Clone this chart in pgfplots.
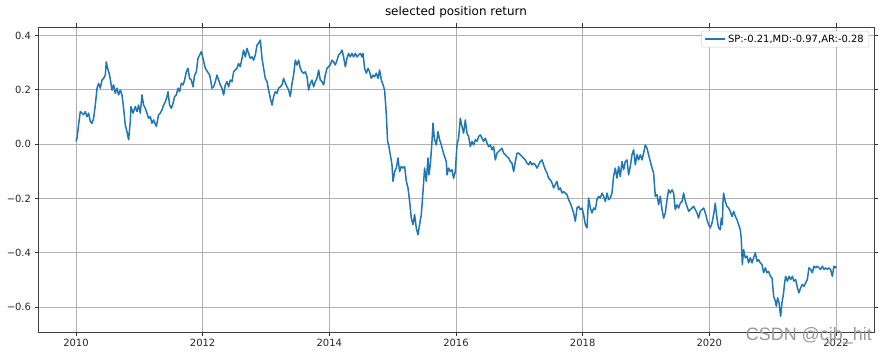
\documentclass[border=0pt]{standalone}
\usepackage{fontspec}
\setmainfont{DejaVu Sans}
\newfontfamily\wmfont{Liberation Sans}
\usepackage{pgfplots}
\pgfplotsset{compat=1.18}
\definecolor{mplblue}{HTML}{1F77B4}
\begin{document}
\begin{tikzpicture}
\begin{axis}[
  scale only axis, width=836bp, height=305bp,
  xmin=2009.4, xmax=2022.6, ymin=-0.691, ymax=0.431,
  xtick={2010,2012,2014,2016,2018,2020,2022},
  xticklabels={2010,2012,2014,2016,2018,2020,2022},
  ytick={-0.6,-0.4,-0.2,0,0.2,0.4},
  yticklabels={−0.6,−0.4,−0.2,0.0,0.2,0.4},
  tick align=outside, major tick length=3.5bp,
  tick style={black!80, line width=0.8bp},
  axis line style={black!75, line width=0.8bp},
  grid=major, major grid style={color=black!31, line width=0.8bp},
  ticklabel style={font=\fontsize{10}{12}\selectfont, text=black!85},
  title={selected position return},
  title style={font=\fontsize{12}{14}\selectfont, at={(0.5,1)}, anchor=south, yshift=3bp, inner sep=0pt},
  legend style={at={(1,1)}, anchor=north east, xshift=-5bp, yshift=-4bp, draw=black!20, fill=white, rounded corners=2bp, font=\fontsize{10}{12}\selectfont, inner xsep=3bp, inner ysep=1.5bp},
  legend cell align=left,
  legend image code/.code={\draw[#1] (0bp,0bp) -- (20bp,0bp);},
]
\addplot[mplblue, line width=1.5bp, line join=round] coordinates {
(2010.000,0.010)(2010.016,0.022)(2010.041,0.071)(2010.068,0.120)(2010.095,0.114)(2010.120,0.108)(2010.147,0.120)(2010.174,0.101)(2010.199,0.114)(2010.226,0.083)(2010.253,0.077)(2010.278,0.095)(2010.305,0.144)(2010.332,0.206)(2010.357,0.224)(2010.384,0.206)(2010.411,0.236)(2010.436,0.242)(2010.463,0.254)(2010.478,0.303)(2010.499,0.279)(2010.531,0.254)(2010.568,0.199)(2010.594,0.218)(2010.621,0.187)(2010.647,0.206)(2010.673,0.181)(2010.700,0.199)(2010.726,0.181)(2010.752,0.132)(2010.778,0.071)(2010.805,0.046)(2010.831,0.016)(2010.857,0.083)(2010.868,0.138)(2010.900,0.114)(2010.936,0.138)(2010.963,0.120)(2010.988,0.144)(2011.015,0.114)(2011.042,0.181)(2011.067,0.144)(2011.094,0.132)(2011.121,0.114)(2011.146,0.095)(2011.173,0.101)(2011.200,0.077)(2011.225,0.089)(2011.268,0.065)(2011.304,0.108)(2011.331,0.114)(2011.358,0.126)(2011.383,0.144)(2011.410,0.156)(2011.437,0.175)(2011.453,0.193)(2011.478,0.144)(2011.505,0.132)(2011.532,0.150)(2011.557,0.175)(2011.584,0.181)(2011.611,0.206)(2011.636,0.193)(2011.663,0.224)(2011.690,0.218)(2011.715,0.236)(2011.742,0.266)(2011.768,0.279)(2011.794,0.242)(2011.821,0.236)(2011.847,0.211)(2011.873,0.254)(2011.900,0.266)(2011.926,0.316)(2011.952,0.328)(2011.978,0.340)(2012.005,0.316)(2012.042,0.279)(2012.078,0.266)(2012.110,0.254)
(2012.121,0.242)(2012.147,0.206)(2012.173,0.211)(2012.200,0.230)(2012.226,0.254)(2012.252,0.236)(2012.279,0.218)(2012.305,0.206)(2012.331,0.181)(2012.357,0.218)(2012.384,0.230)(2012.410,0.211)(2012.436,0.236)(2012.463,0.230)(2012.489,0.266)(2012.515,0.273)(2012.542,0.279)(2012.567,0.297)(2012.594,0.285)(2012.621,0.316)(2012.646,0.346)(2012.673,0.321)(2012.700,0.352)(2012.725,0.334)(2012.752,0.316)(2012.779,0.321)(2012.804,0.309)(2012.831,0.328)(2012.858,0.364)(2012.883,0.371)(2012.910,0.383)(2012.937,0.316)(2012.962,0.279)(2012.989,0.242)(2013.016,0.230)(2013.041,0.199)(2013.068,0.169)(2013.095,0.144)(2013.120,0.175)(2013.147,0.193)(2013.174,0.187)(2013.199,0.206)(2013.226,0.211)(2013.253,0.218)(2013.278,0.242)(2013.305,0.224)(2013.332,0.211)(2013.357,0.199)(2013.384,0.175)(2013.411,0.224)(2013.436,0.254)(2013.463,0.309)(2013.490,0.291)(2013.515,0.309)(2013.542,0.279)(2013.569,0.266)(2013.594,0.261)(2013.621,0.266)(2013.647,0.248)(2013.673,0.199)(2013.700,0.224)(2013.726,0.236)(2013.752,0.211)(2013.778,0.230)(2013.805,0.242)(2013.831,0.273)(2013.857,0.236)(2013.884,0.230)(2013.910,0.218)(2013.936,0.254)(2013.963,0.279)(2013.988,0.285)(2014.015,0.291)(2014.042,0.309)(2014.067,0.303)(2014.094,0.291)(2014.121,0.309)(2014.147,0.328)
(2014.173,0.334)(2014.200,0.346)(2014.225,0.321)(2014.252,0.285)(2014.279,0.316)(2014.304,0.334)(2014.331,0.321)(2014.358,0.334)(2014.383,0.321)(2014.410,0.334)(2014.437,0.321)(2014.462,0.328)(2014.489,0.334)(2014.516,0.321)(2014.531,0.334)(2014.557,0.279)(2014.584,0.261)(2014.611,0.279)(2014.636,0.266)(2014.663,0.242)(2014.690,0.254)(2014.715,0.248)(2014.742,0.261)(2014.769,0.242)(2014.794,0.273)(2014.821,0.236)(2014.848,0.218)(2014.873,0.199)(2014.900,0.108)(2014.920,0.010)(2014.936,-0.003)(2014.963,-0.039)(2014.989,-0.076)(2015.005,-0.137)(2015.031,-0.101)(2015.058,-0.088)(2015.084,-0.051)(2015.110,-0.101)(2015.136,-0.082)(2015.163,-0.088)(2015.189,-0.082)(2015.216,-0.137)(2015.242,-0.161)(2015.268,-0.211)(2015.294,-0.272)(2015.321,-0.296)(2015.346,-0.259)(2015.373,-0.308)(2015.400,-0.333)(2015.425,-0.296)(2015.452,-0.259)(2015.479,-0.174)(2015.504,-0.088)(2015.531,-0.137)(2015.558,-0.051)(2015.573,-0.113)(2015.594,-0.076)(2015.621,0.010)(2015.637,0.077)(2015.657,0.022)(2015.689,-0.003)(2015.716,0.046)(2015.741,0.016)(2015.768,-0.003)(2015.795,-0.027)(2015.820,-0.046)(2015.847,-0.064)(2015.858,-0.113)(2015.883,-0.088)(2015.910,-0.101)(2015.937,-0.094)(2015.962,-0.125)(2015.989,-0.101)(2016.016,-0.003)(2016.041,0.022)(2016.068,0.095)(2016.095,0.065)(2016.120,0.040)(2016.147,0.089)(2016.174,0.040)(2016.199,0.028)
(2016.226,-0.009)(2016.253,0.010)(2016.278,-0.003)(2016.305,0.016)(2016.332,0.010)(2016.357,0.028)(2016.384,0.034)(2016.411,0.022)(2016.436,0.010)(2016.463,0.022)(2016.490,0.004)(2016.515,-0.009)(2016.542,-0.003)(2016.569,-0.021)(2016.594,-0.009)(2016.621,-0.058)(2016.648,-0.033)(2016.673,-0.027)(2016.700,-0.021)(2016.726,-0.015)(2016.752,-0.033)(2016.778,-0.039)(2016.805,-0.046)(2016.831,-0.051)(2016.858,-0.064)(2016.884,-0.070)(2016.910,-0.101)(2016.937,-0.064)(2016.963,-0.033)(2016.988,-0.033)(2017.015,-0.039)(2017.042,-0.046)(2017.067,-0.051)(2017.094,-0.058)(2017.121,-0.070)(2017.147,-0.076)(2017.173,-0.064)(2017.200,-0.076)(2017.225,-0.070)(2017.252,-0.076)(2017.279,-0.088)(2017.304,-0.076)(2017.331,-0.064)(2017.358,-0.058)(2017.383,-0.076)(2017.410,-0.094)(2017.437,-0.106)(2017.462,-0.125)(2017.489,-0.131)(2017.516,-0.143)(2017.541,-0.161)(2017.568,-0.149)(2017.595,-0.137)(2017.620,-0.168)(2017.647,-0.161)(2017.674,-0.180)(2017.699,-0.174)(2017.726,-0.180)(2017.753,-0.186)(2017.778,-0.204)(2017.805,-0.217)(2017.832,-0.235)(2017.857,-0.253)(2017.884,-0.284)(2017.910,-0.235)(2017.936,-0.229)(2017.963,-0.241)(2017.990,-0.235)(2018.015,-0.259)(2018.042,-0.296)(2018.068,-0.308)(2018.094,-0.198)(2018.121,-0.235)(2018.147,-0.253)(2018.173,-0.235)(2018.200,-0.241)
(2018.226,-0.204)(2018.252,-0.192)(2018.279,-0.198)(2018.306,-0.180)(2018.331,-0.192)(2018.358,-0.211)(2018.385,-0.180)(2018.410,-0.204)(2018.436,-0.198)(2018.463,-0.180)(2018.488,-0.119)(2018.515,-0.088)(2018.542,-0.125)(2018.568,-0.082)(2018.594,-0.119)(2018.621,-0.064)(2018.647,-0.094)(2018.673,-0.064)(2018.700,-0.058)(2018.726,-0.113)(2018.752,-0.082)(2018.779,-0.039)(2018.805,-0.021)(2018.831,-0.076)(2018.858,-0.039)(2018.884,-0.058)(2018.910,-0.039)(2018.937,-0.058)(2018.962,-0.033)(2018.989,-0.003)(2019.016,-0.015)(2019.041,-0.039)(2019.068,-0.064)(2019.095,-0.088)(2019.120,-0.106)(2019.147,-0.192)(2019.174,-0.186)(2019.199,-0.223)(2019.226,-0.192)(2019.253,-0.241)(2019.278,-0.272)(2019.305,-0.253)(2019.332,-0.204)(2019.357,-0.168)(2019.384,-0.180)(2019.411,-0.168)(2019.436,-0.180)(2019.463,-0.241)(2019.490,-0.223)(2019.515,-0.235)(2019.542,-0.217)(2019.569,-0.211)(2019.594,-0.180)(2019.621,-0.211)(2019.648,-0.229)(2019.673,-0.247)(2019.700,-0.241)(2019.726,-0.235)(2019.752,-0.229)(2019.779,-0.241)(2019.805,-0.253)(2019.830,-0.272)(2019.857,-0.247)(2019.884,-0.241)(2019.910,-0.235)(2019.937,-0.253)(2019.963,-0.278)(2019.989,-0.296)(2020.015,-0.308)(2020.042,-0.290)(2020.068,-0.259)(2020.094,-0.217)(2020.110,-0.253)(2020.131,-0.290)(2020.147,-0.308)(2020.173,-0.315)(2020.189,-0.272)(2020.205,-0.296)(2020.216,-0.211)(2020.225,-0.180)
(2020.252,-0.211)(2020.279,-0.229)(2020.304,-0.235)(2020.331,-0.247)(2020.358,-0.266)(2020.383,-0.247)(2020.410,-0.266)(2020.437,-0.278)(2020.462,-0.296)(2020.489,-0.315)(2020.505,-0.351)(2020.521,-0.443)(2020.541,-0.388)(2020.568,-0.418)(2020.595,-0.412)(2020.620,-0.437)(2020.647,-0.418)(2020.674,-0.437)(2020.699,-0.418)(2020.726,-0.400)(2020.753,-0.431)(2020.778,-0.425)(2020.805,-0.437)(2020.832,-0.443)(2020.857,-0.473)(2020.884,-0.455)(2020.911,-0.473)(2020.936,-0.468)(2020.963,-0.486)(2020.990,-0.492)(2021.015,-0.559)(2021.042,-0.578)(2021.058,-0.596)(2021.078,-0.565)(2021.100,-0.583)(2021.126,-0.633)(2021.147,-0.583)(2021.169,-0.553)(2021.189,-0.510)(2021.205,-0.486)(2021.232,-0.504)(2021.257,-0.486)(2021.284,-0.498)(2021.311,-0.486)(2021.336,-0.504)(2021.363,-0.498)(2021.390,-0.528)(2021.415,-0.547)(2021.442,-0.528)(2021.469,-0.516)(2021.494,-0.523)(2021.521,-0.510)(2021.547,-0.498)(2021.573,-0.455)(2021.600,-0.461)(2021.626,-0.473)(2021.652,-0.449)(2021.678,-0.455)(2021.705,-0.449)(2021.731,-0.455)(2021.757,-0.461)(2021.784,-0.449)(2021.810,-0.461)(2021.836,-0.455)(2021.863,-0.461)(2021.888,-0.455)(2021.915,-0.461)(2021.942,-0.486)(2021.967,-0.449)(2021.994,-0.455)(2022.000,-0.449)
};
\addlegendentry{SP:-0.21,MD:-0.97,AR:-0.28}
\end{axis}
\node[anchor=base east, text=black!40, font=\wmfont\fontsize{18}{18}\selectfont, inner sep=0pt] at ([xshift=-2bp, yshift=-8.7bp]current axis.south east) {CSDN @cjb\_hit};
\path ([xshift=-38bp,yshift=-22bp]current axis.south west) rectangle ([xshift=14bp,yshift=27bp]current axis.north east);
\end{tikzpicture}
\end{document}
